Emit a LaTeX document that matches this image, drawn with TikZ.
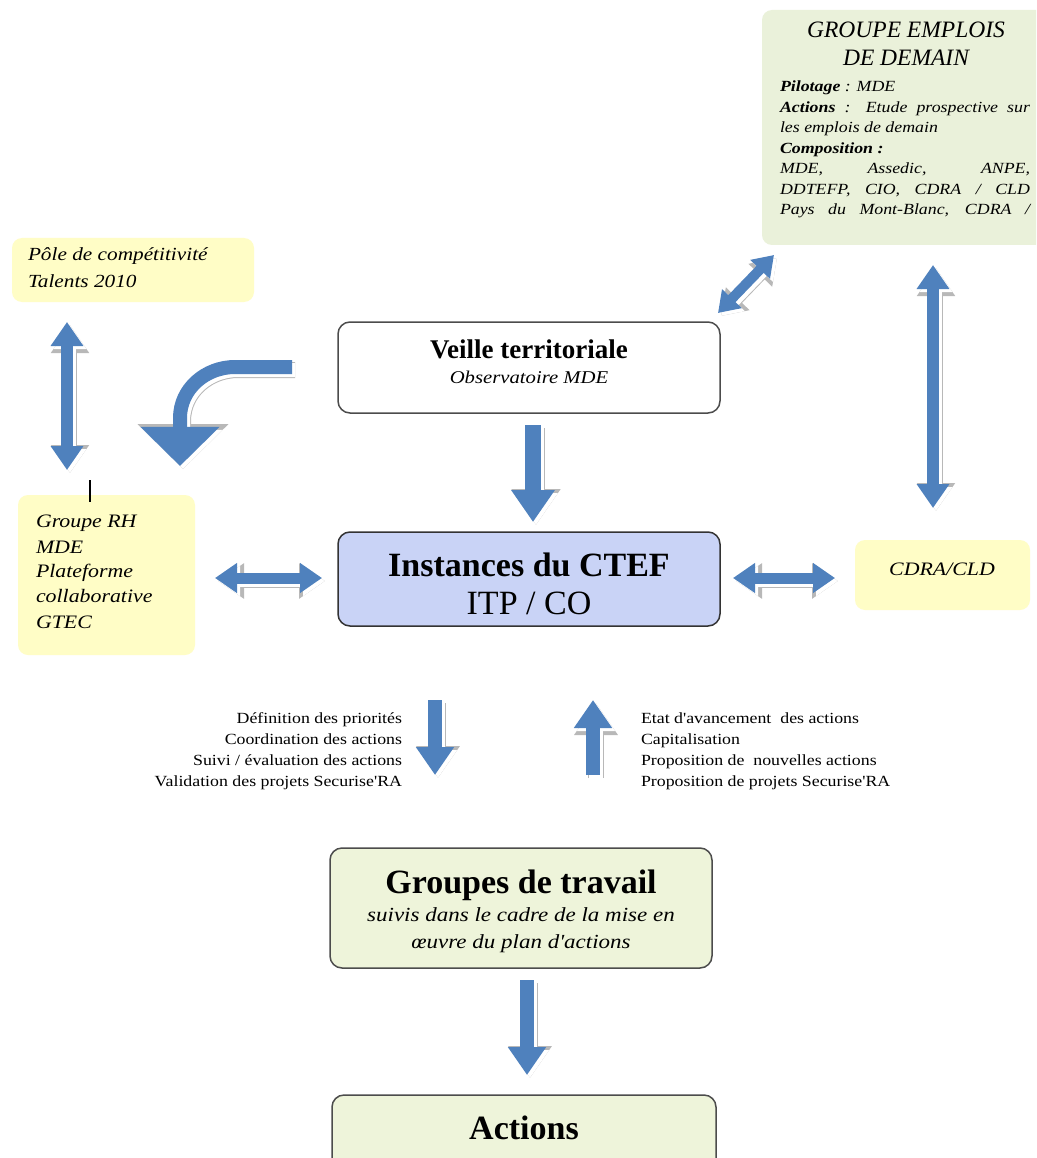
\documentclass[tikz,border=0pt]{standalone}
\usepackage{fontspec}
\setmainfont{Liberation Serif}
\newfontfamily\wit{Liberation Serif}[FakeStretch=1.15]
\usetikzlibrary{arrows.meta}
\definecolor{ablue}{HTML}{4F81BD}
\definecolor{softyel}{HTML}{FFFDC6}
\definecolor{softgrn}{HTML}{EAF1DA}
\definecolor{boxgrn}{HTML}{EEF4DA}
\definecolor{boxblu}{HTML}{C9D3F6}
\tikzset{
  tipA/.tip={Triangle[length=0pt 2, width=0pt 2.6]},
  tipC/.tip={Triangle[length=0pt 2.8, width=0pt 5.5]},
  framebox/.style={draw=black!70, line width=1.5pt, rounded corners=12pt},
  softbox/.style={rounded corners=10pt},
  txt/.style={inner sep=0pt, outer sep=0pt},
}
\newcommand\blockarrow[3]{%
  \begin{scope}[transform canvas={shift={(3pt,-3pt)}}]
    \draw[line width=#1pt+2pt, draw=black!28, #2] #3;
    \draw[line width=#1pt, draw=white, #2] #3;
  \end{scope}
  \draw[line width=#1pt, draw=ablue, #2] #3;}
\begin{document}
\begin{tikzpicture}[x=1pt,y=-1pt]
\clip (0,0) rectangle (1036,1158);
\fill[white] (0,0) rectangle (1036,1158);

% ---------- boxes ----------
\node[softbox, fill=softgrn, minimum width=300pt, minimum height=235pt] (gem) at (912,127.5) {};
\node[softbox, fill=softyel, minimum width=242pt, minimum height=64pt] (pole) at (133,270) {};
\node[softbox, fill=softyel, minimum width=177pt, minimum height=160pt] (rh) at (106.5,575) {};
\node[softbox, fill=softyel, minimum width=175pt, minimum height=70pt] (cdra) at (942.5,575) {};
\node[framebox, fill=white, minimum width=382pt, minimum height=91pt] (veille) at (529,367.5) {};
\node[framebox, draw=black!80, fill=boxblu, minimum width=382pt, minimum height=94pt] (inst) at (529,579) {};
\node[framebox, fill=boxgrn, minimum width=382pt, minimum height=120pt] (grp) at (521,908) {};
\node[framebox, fill=boxgrn, minimum width=384pt, minimum height=90pt] (act) at (524,1140) {};

% ---------- texts ----------
\node[txt, anchor=base, font=\itshape\fontsize{23.5}{26}\selectfont] (gt1) at (906,38) {GROUPE EMPLOIS};
\node[txt, anchor=base, font=\itshape\fontsize{23.5}{26}\selectfont] (gt2) at (906,66) {DE DEMAIN};
\begin{scope}[every node/.style={txt, anchor=base west, font=\wit\itshape\fontsize{15.5}{17}\selectfont}]
\node (g1) at (780,92) {\makebox[250pt][l]{{\bfseries Pilotage} : MDE}};
\node (g2) at (780,112.5) {\makebox[250pt][s]{{\bfseries Actions} : Etude prospective sur}};
\node (g3) at (780,133) {\makebox[250pt][l]{les emplois de demain}};
\node (g4) at (780,153.5) {\makebox[250pt][l]{\bfseries Composition :}};
\node (g5) at (780,174) {\makebox[250pt][s]{MDE, Assedic, ANPE,}};
\node (g6) at (780,194.5) {\makebox[250pt][s]{DDTEFP, CIO, CDRA / CLD}};
\node (g7) at (780,215) {\makebox[250pt][s]{Pays du Mont-Blanc, CDRA /}};
\end{scope}

\node[txt, anchor=base west, font=\wit\itshape\fontsize{18.5}{20}\selectfont] (p1) at (28,260) {Pôle de compétitivité};
\node[txt, anchor=base west, font=\wit\itshape\fontsize{18.5}{20}\selectfont] (p2) at (28,287) {Talents 2010};

\begin{scope}[every node/.style={txt, anchor=base west, font=\wit\itshape\fontsize{19}{21}\selectfont}]
\node (r1) at (36,527) {Groupe RH};
\node (r2) at (36,553) {MDE};
\node (r3) at (36,577) {Plateforme};
\node (r4) at (36,602) {collaborative};
\node (r5) at (36,628) {GTEC};
\end{scope}

\node[txt, anchor=base, font=\wit\itshape\fontsize{19}{21}\selectfont] (c1) at (942,575) {CDRA/CLD};

\node[txt, anchor=base, font=\bfseries\fontsize{27}{30}\selectfont] (v1) at (529,358) {Veille territoriale};
\node[txt, anchor=base, font=\wit\itshape\fontsize{18}{20}\selectfont] (v2) at (529,383) {Observatoire MDE};

\node[txt, anchor=base, font=\bfseries\fontsize{34}{36}\selectfont] (i1) at (529,576) {Instances du CTEF};
\node[txt, anchor=base, font=\fontsize{34}{36}\selectfont] (i2) at (529,614) {ITP / CO};

\node[txt, anchor=base, font=\bfseries\fontsize{34}{36}\selectfont] (w1) at (521,893) {Groupes de travail};
\node[txt, anchor=base, font=\wit\itshape\fontsize{20}{22}\selectfont] (w2) at (521,921) {suivis dans le cadre de la mise en};
\node[txt, anchor=base, font=\wit\itshape\fontsize{20}{22}\selectfont] (w3) at (521,948) {œuvre du plan d'actions};

\node[txt, anchor=base, font=\bfseries\fontsize{34}{36}\selectfont] (a1) at (524,1139) {Actions};

\begin{scope}[every node/.style={txt, anchor=base east, font=\wit\fontsize{15.5}{17}\selectfont}]
\node (l1) at (402,723) {Définition des priorités};
\node (l2) at (402,744) {Coordination des actions};
\node (l3) at (402,765) {Suivi / évaluation des actions};
\node (l4) at (402,786) {Validation des projets Securise'RA};
\end{scope}
\begin{scope}[every node/.style={txt, anchor=base west, font=\wit\fontsize{15.5}{17}\selectfont}]
\node (q1) at (641,723) {Etat d'avancement\ \ des actions};
\node (q2) at (641,744) {Capitalisation};
\node (q3) at (641,765) {Proposition de\ \ nouvelles actions};
\node (q4) at (641,786) {Proposition de projets Securise'RA};
\end{scope}

% ---------- arrow end points ----------
\coordinate (va) at (533,425);  \coordinate (vb) at (533,522);
\coordinate (da) at (435,700);  \coordinate (db) at (435,775);
\coordinate (ua) at (593,775);  \coordinate (ub) at (593,700);
\coordinate (ga) at (527,980);  \coordinate (gb) at (527,1075);
\coordinate (la) at (215,578);  \coordinate (lb) at (322,578);
\coordinate (ra) at (733,578);  \coordinate (rb) at (835,578);
\coordinate (pa) at (67,322);   \coordinate (pb) at (67,470);
\coordinate (ea) at (933,265);  \coordinate (eb) at (933,508);
\coordinate (xa) at (718,313);  \coordinate (xb) at (774,255);
\coordinate (ca) at (292,367);  \coordinate (cm) at (235,367);
\coordinate (cn) at (180,418);  \coordinate (cb) at (180,466);

% ---------- block arrows ----------
\blockarrow{16}{-tipA}{(va) -- (vb)}
\blockarrow{14}{-tipA}{(da) -- (db)}
\blockarrow{14}{-tipA}{(ua) -- (ub)}
\blockarrow{14}{-tipA}{(ga) -- (gb)}
\blockarrow{11}{tipA-tipA}{(la) -- (lb)}
\blockarrow{11}{tipA-tipA}{(ra) -- (rb)}
\blockarrow{12}{tipA-tipA}{(pa) -- (pb)}
\blockarrow{12}{tipA-tipA}{(ea) -- (eb)}
\blockarrow{10}{tipA-tipA}{(xa) -- (xb)}
\blockarrow{14}{-tipC}{(ca) -- (cm) to[out=180,in=90] (cn) -- (cb)}

% small tick above Groupe RH
\coordinate (ta) at (90,480); \coordinate (tb) at (90,502);
\draw[line width=2pt, black] (ta) -- (tb);
\end{tikzpicture}
\end{document}
